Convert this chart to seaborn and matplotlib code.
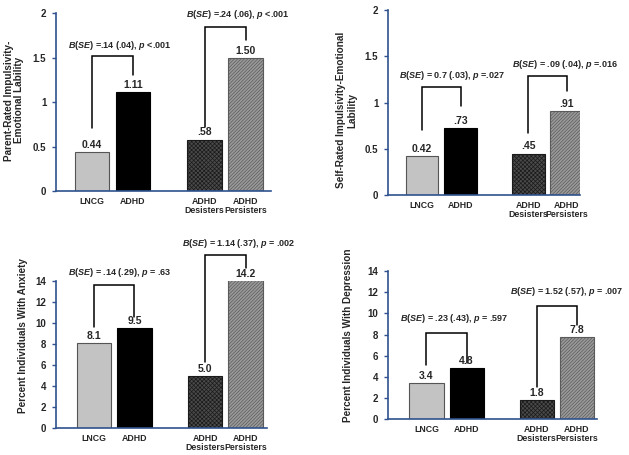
import matplotlib
matplotlib.use('Agg')
import matplotlib.pyplot as plt
import seaborn as sns
from matplotlib.ticker import FuncFormatter

# datos
groups = ['LNCG', 'ADHD', 'ADHD\nDesisters', 'ADHD\nPersisters']

parent_el = [0.44, 1.11, 0.58, 1.50]
parent_el_labels = ['0.44', '1.11', '.58', '1.50']
parent_el_tests = ['$B$($SE$) =.14 (.04), $p$ <.001', '$B$($SE$) =.24 (.06), $p$ <.001']

self_el = [0.42, 0.73, 0.45, 0.91]
self_el_labels = ['0.42', '.73', '.45', '.91']
self_el_tests = ['$B$($SE$) = 0.7 (.03), $p$ =.027', '$B$($SE$) = .09 (.04), $p$ =.016']

anxiety = [8.1, 9.5, 5.0, 14.2]
anxiety_labels = ['8.1', '9.5', '5.0', '14.2']
anxiety_tests = ['$B$($SE$) = .14 (.29), $p$ = .63', '$B$($SE$) = 1.14 (.37), $p$ = .002']

depression = [3.4, 4.8, 1.8, 7.8]
depression_labels = ['3.4', '4.8', '1.8', '7.8']
depression_tests = ['$B$($SE$) = .23 (.43), $p$ = .597', '$B$($SE$) = 1.52 (.57), $p$ = .007']

# estilo
sns.set_style('white')
plt.rcParams['font.family'] = ['Liberation Sans', 'DejaVu Sans']
plt.rcParams['font.weight'] = 'bold'
plt.rcParams['mathtext.fontset'] = 'custom'
plt.rcParams['mathtext.it'] = 'Liberation Sans:italic:bold'
plt.rcParams['mathtext.rm'] = 'Liberation Sans:bold'
plt.rcParams['hatch.linewidth'] = 0.5

axis_blue = '#2f528f'
xpos = [0, 1, 2.75, 3.75]
faces = ['#c3c3c3', '#000000', '#4a4a4a', '#9a9a9a']
edges = ['#555555', '#000000', '#1a1a1a', '#5a5a5a']
hatches = [None, None, 'xxxxxxxx', '//////////']

fig = plt.figure(figsize=(6.29, 4.55), dpi=100)

# (datos, etiquetas, pruebas, ylabel, rect, xlim, ylim, ticks, coords ylabel, corchetes)
panels = [
    (parent_el, parent_el_labels, parent_el_tests,
     'Parent-Rated Impulsivity-\nEmotional Lability',
     [0.089, 0.580, 0.342, 0.391], (-0.88, 4.37), (0, 2), [0, 0.5, 1, 1.5, 2],
     (-0.195, 0.51),
     [(1.52, 0.71, 1.30, 0.68, 1.64), (1.84, 0.72, 1.70, 3.56, 1.98)]),
    (self_el, self_el_labels, self_el_tests,
     'Self-Rated Impulsivity-Emotional\nLability',
     [0.617, 0.571, 0.305, 0.407], (-0.88, 4.09), (0, 2), [0, 0.5, 1, 1.5, 2],
     (-0.215, 0.46),
     [(1.17, 0.70, 0.96, 0.78, 1.29), (1.29, 0.67, 1.12, 3.70, 1.41)]),
    (anxiety, anxiety_labels, anxiety_tests,
     'Percent Individuals With Anxiety',
     [0.089, 0.059, 0.335, 0.323], (-0.94, 4.27), (0, 14), list(range(0, 15, 2)),
     (-0.156, 0.63),
     [(13.6, 9.6, 10.6, 0.64, 14.8), (16.5, 6.3, 15.3, 3.58, 17.6)]),
    (depression, depression_labels, depression_tests,
     'Percent Individuals With Depression',
     [0.617, 0.079, 0.332, 0.325], (-0.96, 4.26), (0, 14), list(range(0, 15, 2)),
     (-0.19, 0.57),
     [(8.1, 5.1, 5.3, 0.70, 9.55), (10.7, 3.0, 8.9, 3.51, 12.1)]),
]

for vals, vlabels, tests, ylab, rect, xlim, ylim, ticks, lc, brackets in panels:
    ax = fig.add_axes(rect)
    sns.barplot(x=xpos, y=vals, native_scale=True, width=0.85, color='grey', ax=ax)
    for p, fc, ec, h in zip(ax.patches, faces, edges, hatches):
        p.set_facecolor(fc)
        p.set_edgecolor(ec)
        p.set_linewidth(0.8)
        if h:
            p.set_hatch(h)

    # etiquetas de valores
    for x, v, lab in zip(xpos, vals, vlabels):
        ax.annotate(lab, (x, min(v, ylim[1])), xytext=(0, 1.5), textcoords='offset points',
                    ha='center', va='bottom', fontsize=7.5, fontweight='bold')

    # corchetes de comparación
    for (top, lleg, rleg, tx, ty), test, (xa, xb) in zip(brackets, tests,
                                                          [(xpos[0], xpos[1]), (xpos[2], xpos[3])]):
        ax.plot([xa, xa, xb, xb], [lleg, top, top, rleg], color='black', lw=1.1,
                clip_on=False, solid_joinstyle='miter')
        ax.text(tx, ty, test, ha='center', va='center', fontsize=6.5, fontweight='bold',
                clip_on=False)

    ax.set_xlim(xlim)
    ax.set_ylim(ylim)
    ax.set_yticks(ticks)
    ax.yaxis.set_major_formatter(FuncFormatter(lambda v, _: f'{v:g}'))
    ax.set_xticks(xpos)
    ax.set_xticklabels(groups, fontsize=6.3, fontweight='bold', linespacing=1.05)
    ax.tick_params(axis='x', length=0, pad=4)
    ax.tick_params(axis='y', length=3, width=1, color=axis_blue, labelsize=7, pad=4,
                   direction='out', left=True)
    for t in ax.get_yticklabels():
        t.set_fontweight('bold')

    ax.set_ylabel(ylab, fontsize=7.2, fontweight='bold', va='center', ha='center',
                  linespacing=1.1)
    ax.yaxis.set_label_coords(*lc)

    sns.despine(ax=ax)
    for s in ['left', 'bottom']:
        ax.spines[s].set_color(axis_blue)
        ax.spines[s].set_linewidth(1.2)

plt.savefig('out.png', dpi=100)
